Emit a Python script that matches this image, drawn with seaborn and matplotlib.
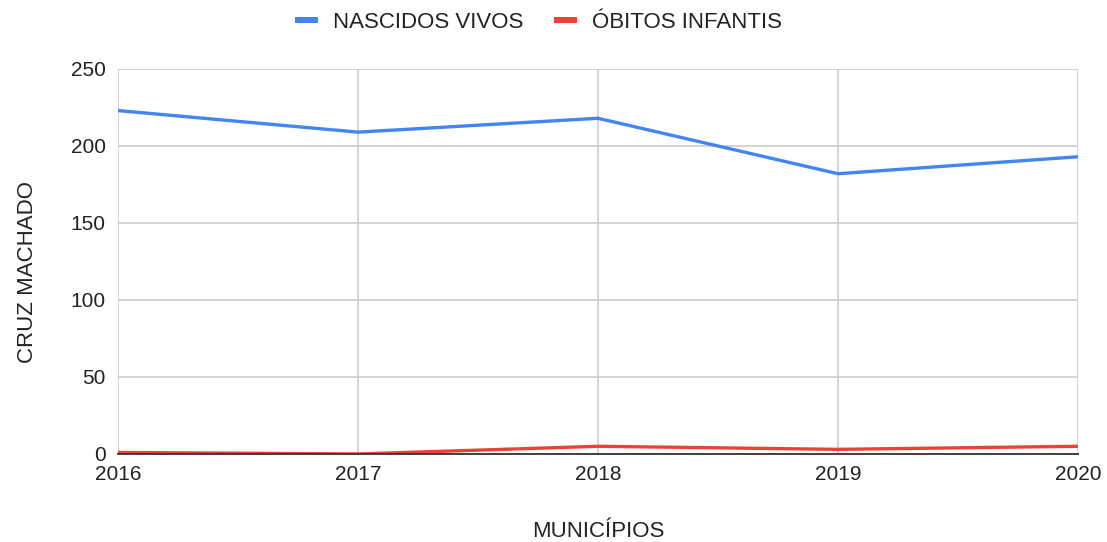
import pandas as pd
import matplotlib.pyplot as plt
import seaborn as sns
from matplotlib.lines import Line2D

anos = [2016, 2017, 2018, 2019, 2020]
nascidos_vivos = [223, 209, 218, 182, 193]
obitos_infantis = [1, 0, 5, 3, 5]
series = ['NASCIDOS VIVOS', 'ÓBITOS INFANTIS']
cores = ['#4285F4', '#EA4335']

df = pd.DataFrame({
    'ano': anos * 2,
    'valor': nascidos_vivos + obitos_infantis,
    'serie': [series[0]] * len(anos) + [series[1]] * len(anos),
})

sns.set_theme(style='white')
plt.rcParams['font.family'] = ['Liberation Sans', 'DejaVu Sans']

fig = plt.figure(figsize=(11.07, 5.42), dpi=100)
ax = fig.add_axes([0.1066, 0.1624, 0.8672, 0.7103])

sns.lineplot(data=df, x='ano', y='valor', hue='serie', ax=ax,
             palette=cores, linewidth=2.4, legend=False)

ax.set_xlim(2016, 2020)
ax.set_ylim(0, 250)
ax.set_xticks(anos)
ax.set_yticks([0, 50, 100, 150, 200, 250])
ax.grid(True, color='#cccccc', linewidth=1.2)
ax.set_axisbelow(True)
for s in ['top', 'right', 'left']:
    ax.spines[s].set_visible(False)
ax.spines['bottom'].set_color('#333333')
ax.spines['bottom'].set_linewidth(1.3)
ax.tick_params(axis='both', length=0, labelsize=15, colors='#222222')
ax.tick_params(axis='x', pad=8)
ax.tick_params(axis='y', pad=9)
ax.set_xlabel('MUNICÍPIOS', fontsize=16, color='#222222')
ax.set_ylabel('CRUZ MACHADO', fontsize=16, color='#222222')
ax.xaxis.set_label_coords(0.5, -0.175)
ax.yaxis.set_label_coords(-0.083, 0.473)

handles = [Line2D([0], [0], color=c, linewidth=4.3, solid_capstyle='butt') for c in cores]
fig.legend(handles, series, loc='center', bbox_to_anchor=(0.4865, 0.958),
           ncol=2, frameon=False, fontsize=16, handlelength=1.0,
           columnspacing=1.4, handletextpad=0.68, labelcolor='#222222')

fig.savefig('out.png', dpi=100)
